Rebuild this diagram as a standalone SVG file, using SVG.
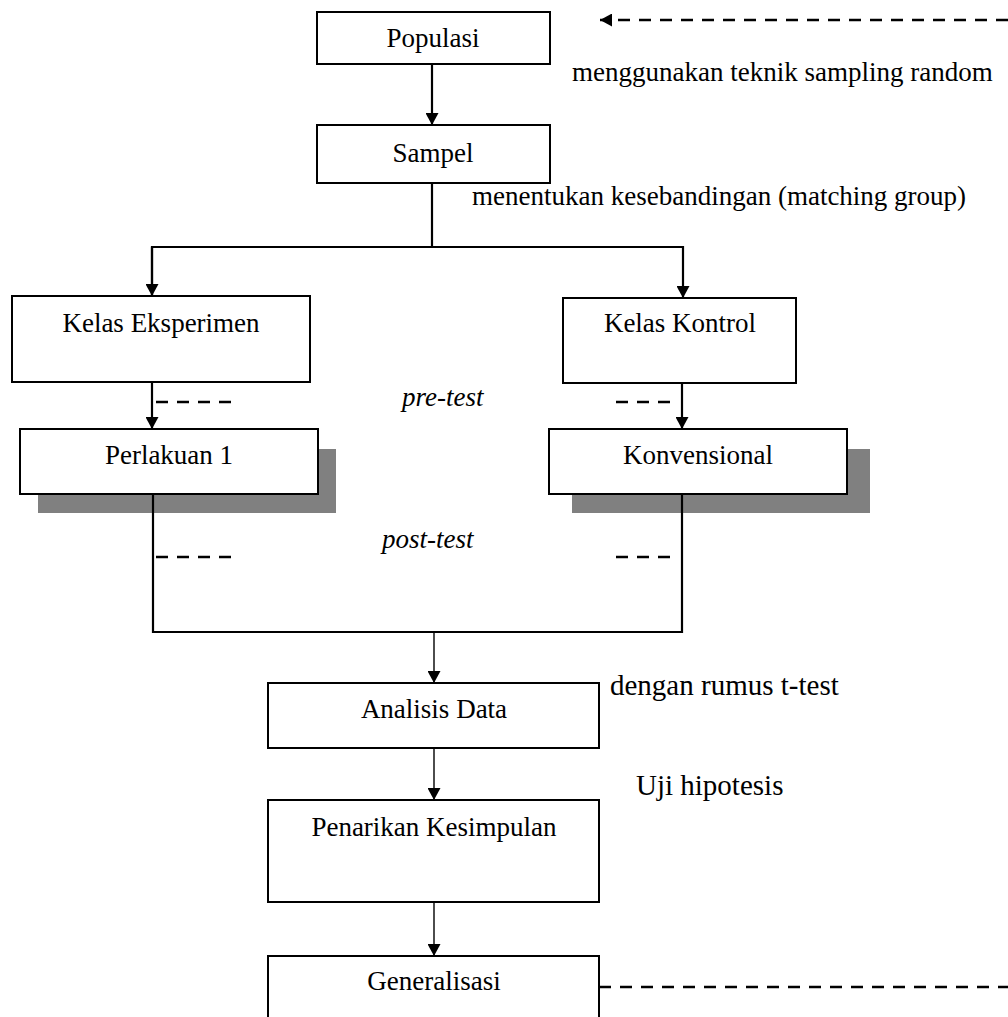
<svg xmlns="http://www.w3.org/2000/svg" width="1008" height="1017" viewBox="0 0 1008 1017">
<style>
  .box { fill: #ffffff; stroke: #000000; stroke-width: 2; }
  .shadow { fill: #808080; stroke: none; }
  .lbl { font-family: "Liberation Serif", "Times New Roman", serif; font-size: 27px; fill: #000000; }
  .mid { text-anchor: middle; }
  .it { font-style: italic; }
  .big { font-size: 29px; }
  .line { fill: none; stroke: #000000; stroke-width: 2.2; }
  .thin { fill: none; stroke: #000000; stroke-width: 1.4; }
  .dash { fill: none; stroke: #000000; stroke-width: 2.5; stroke-dasharray: 12 9; }
</style>
<defs>
  <marker id="ah" markerUnits="userSpaceOnUse" markerWidth="12" markerHeight="13" refX="12" refY="6.5" orient="auto">
    <path d="M0,0 L12,6.5 L0,13 Z" fill="#000000"/>
  </marker>
</defs>
<rect width="1008" height="1017" fill="#ffffff"/>

<g id="connectors">
  <line class="dash" x1="1008" y1="20" x2="600" y2="20" marker-end="url(#ah)"/>
  <line class="line" x1="432" y1="64" x2="432" y2="125" marker-end="url(#ah)"/>
  <polyline class="line" points="432,183 432,247"/>
  <polyline class="line" points="152,296 152,247 683,247 683,298" marker-end="url(#ah)"/>
  <line class="line" x1="152" y1="247" x2="152" y2="296" marker-end="url(#ah)"/>
  <line class="line" x1="152" y1="382" x2="152" y2="429" marker-end="url(#ah)"/>
  <line class="line" x1="682" y1="383" x2="682" y2="429" marker-end="url(#ah)"/>
  <line class="dash" x1="156" y1="402" x2="236" y2="402"/>
  <line class="dash" x1="616" y1="402" x2="678" y2="402"/>
  <line class="dash" x1="156" y1="557" x2="236" y2="557"/>
  <line class="dash" x1="616" y1="557" x2="678" y2="557"/>
  <line class="thin" x1="434" y1="632" x2="434" y2="683" marker-end="url(#ah)"/>
  <line class="thin" x1="434" y1="748" x2="434" y2="800" marker-end="url(#ah)"/>
  <line class="thin" x1="434" y1="902" x2="434" y2="956" marker-end="url(#ah)"/>
  <line class="dash" x1="599" y1="987" x2="1008" y2="987"/>
</g>

<g id="populasi">
  <rect class="box" x="317" y="12" width="233" height="52"/>
  <text class="lbl mid" x="433" y="47">Populasi</text>
</g>
<text class="lbl" x="572" y="81">menggunakan teknik sampling random</text>

<g id="sampel">
  <rect class="box" x="317" y="125" width="233" height="58"/>
  <text class="lbl mid" x="433" y="162">Sampel</text>
</g>
<text class="lbl" x="472" y="205">menentukan kesebandingan (matching group)</text>

<g id="kelas-eksperimen">
  <rect class="box" x="12" y="296" width="298" height="86"/>
  <text class="lbl mid" x="161" y="332">Kelas Eksperimen</text>
</g>

<g id="kelas-kontrol">
  <rect class="box" x="563" y="298" width="233" height="85"/>
  <text class="lbl mid" x="680" y="332">Kelas Kontrol</text>
</g>

<text class="lbl it" x="402" y="406">pre-test</text>

<g id="perlakuan-1">
  <rect class="shadow" x="38" y="449" width="298" height="64"/>
  <rect class="box" x="20" y="429" width="298" height="65"/>
  <text class="lbl mid" x="169" y="464">Perlakuan 1</text>
</g>

<g id="konvensional">
  <rect class="shadow" x="572" y="449" width="298" height="64"/>
  <rect class="box" x="549" y="429" width="298" height="65"/>
  <text class="lbl mid" x="698" y="464">Konvensional</text>
</g>

<g id="join">
  <polyline class="line" points="153,494 153,632 682,632 682,494"/>
</g>

<text class="lbl it" x="382" y="548">post-test</text>

<g id="analisis-data">
  <rect class="box" x="268" y="683" width="331" height="65"/>
  <text class="lbl mid" x="434" y="718">Analisis Data</text>
</g>
<text class="lbl big" x="610" y="695">dengan rumus t-test</text>

<g id="penarikan-kesimpulan">
  <rect class="box" x="268" y="800" width="331" height="102"/>
  <text class="lbl mid" x="434" y="836">Penarikan Kesimpulan</text>
</g>
<text class="lbl big" x="636" y="795">Uji hipotesis</text>

<g id="generalisasi">
  <rect class="box" x="268" y="956" width="331" height="80"/>
  <text class="lbl mid" x="434" y="990">Generalisasi</text>
</g>
</svg>
